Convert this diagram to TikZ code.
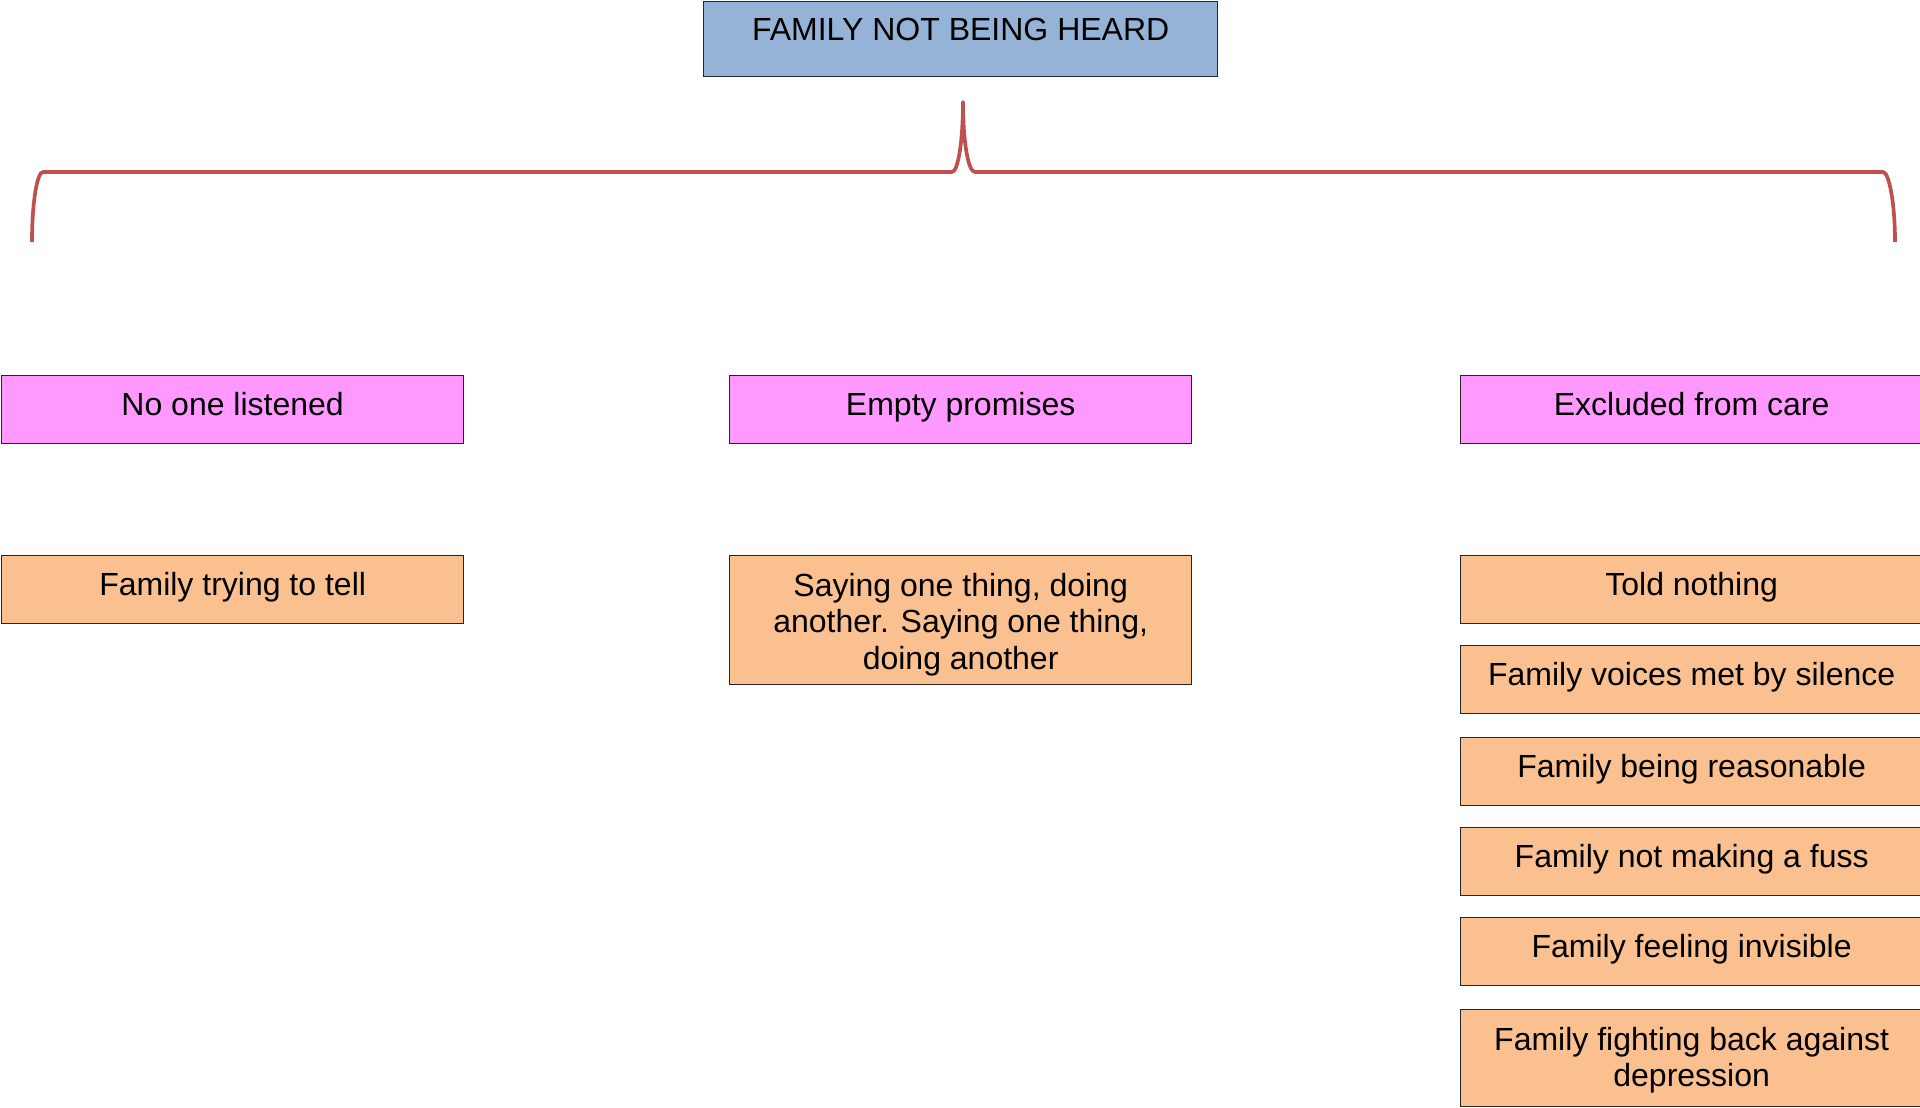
\documentclass[tikz,border=0pt]{standalone}
\usepackage{fontspec}
\setmainfont{Liberation Sans}
\definecolor{headblue}{HTML}{95B3D7}
\definecolor{themepink}{HTML}{FF99FF}
\definecolor{codeorange}{HTML}{FAC090}
\definecolor{bracered}{HTML}{C0504D}
\begin{document}
\begin{tikzpicture}[x=1pt,y=-1pt,
  box/.style={draw=black!85, line width=1.3pt, rectangle, inner sep=0pt,
              anchor=north west, minimum width=462pt},
  headbox/.style={box, fill=headblue, minimum width=514pt, minimum height=75pt},
  themebox/.style={box, fill=themepink, minimum height=68pt},
  codebox/.style={box, fill=codeorange, minimum height=68pt},
  txt/.style={anchor=base, inner sep=0pt, align=center,
              font=\fontsize{32}{36.5}\selectfont},
  brace/.style={draw=bracered, line width=3.7pt, line join=round}
]
\useasboundingbox (0,0) rectangle (1920,1108);
\clip (0,0) rectangle (1920,1108);

% heading
\node[headbox] (head) at (703,1) {};
\node[txt] (headT) at ([yshift=-40pt]head.north) {FAMILY NOT BEING HEARD};

% curly brace below the heading
\coordinate (bl) at (32,242);
\coordinate (br) at (1895,242);
\coordinate (tip) at (963,102);
\draw[brace] (bl) .. controls (32,203) and (37,172) .. (43,172) -- (952,172)
  .. controls (958,172) and (963,141) .. (tip)
  .. controls (963,141) and (968,172) .. (975,172) -- (1883,172)
  .. controls (1889,172) and (1895,203) .. (br);

% themes
\node[themebox] (t1) at (1,375) {};
\node[themebox] (t2) at (729,375) {};
\node[themebox] (t3) at (1460,375) {};
\node[txt] (t1T) at ([yshift=-40pt]t1.north) {No one listened};
\node[txt] (t2T) at ([yshift=-40pt]t2.north) {Empty promises};
\node[txt] (t3T) at ([yshift=-40pt]t3.north) {Excluded from care};

% codes, first column
\node[codebox] (c11) at (1,555) {};
\node[txt] (c11T) at ([yshift=-40pt]c11.north) {Family trying to tell};

% codes, second column
\node[codebox, minimum height=129pt] (c21) at (729,555) {};
\node[txt, anchor=north] (c21T) at ([yshift=-18pt]c21.north)
  {Saying one thing, doing\\another. Saying one thing,\\doing another};

% codes, third column
\node[codebox] (c31) at (1460,555) {};
\node[codebox] (c32) at (1460,645) {};
\node[codebox] (c33) at (1460,737) {};
\node[codebox] (c34) at (1460,827) {};
\node[codebox] (c35) at (1460,917) {};
\node[codebox, minimum height=97pt] (c36) at (1460,1009) {};
\node[txt] (c31T) at ([yshift=-40pt]c31.north) {Told nothing};
\node[txt] (c32T) at ([yshift=-40pt]c32.north) {Family voices met by silence};
\node[txt] (c33T) at ([yshift=-40pt]c33.north) {Family being reasonable};
\node[txt] (c34T) at ([yshift=-40pt]c34.north) {Family not making a fuss};
\node[txt] (c35T) at ([yshift=-40pt]c35.north) {Family feeling invisible};
\node[txt, anchor=north] (c36T) at ([yshift=-18pt]c36.north)
  {Family fighting back against\\depression};
\end{tikzpicture}
\end{document}
